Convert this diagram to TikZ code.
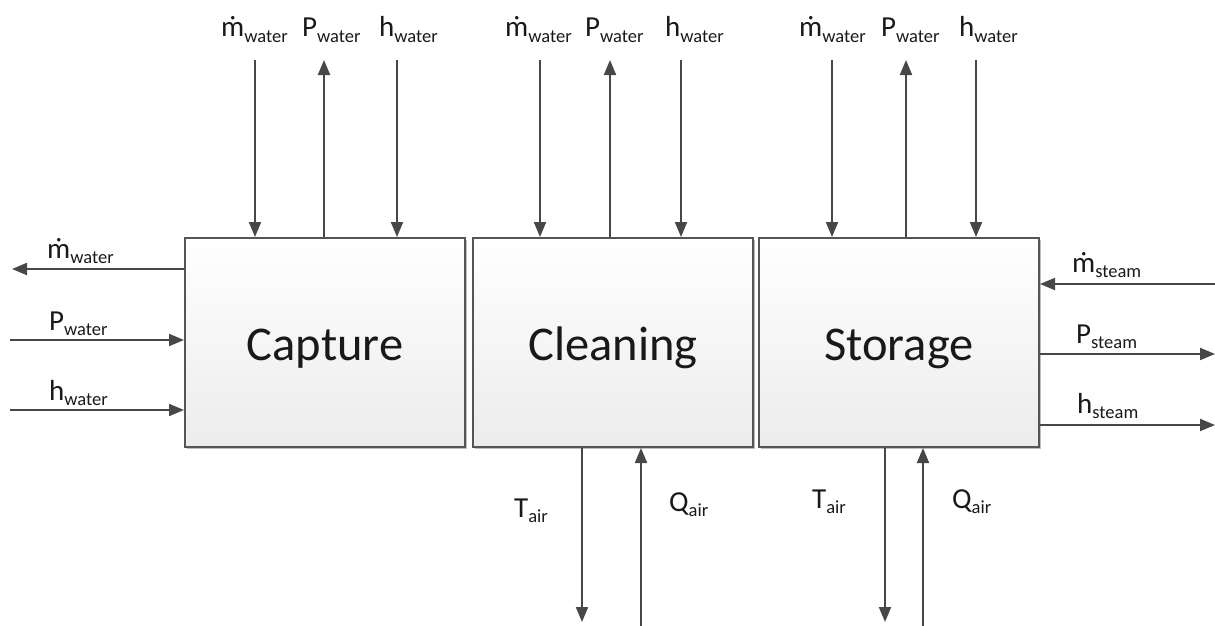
\documentclass[tikz,border=0pt]{standalone}
\usepackage{fontspec}
\setmainfont{Carlito}
\usetikzlibrary{arrows.meta,shadows}
\definecolor{arrowgray}{HTML}{474747}
\definecolor{edgegray}{HTML}{555555}
\definecolor{fillbot}{HTML}{ECECEC}
% quantity with a lowered subscript
\newcommand{\flw}[2]{#1\raisebox{-5.5pt}{\fontsize{18.5}{18.5}\selectfont #2}}
\begin{document}
\begin{tikzpicture}[x=1pt,y=-1pt,
  flow/.style={draw=arrowgray, line width=2pt, -{Triangle[length=15pt,width=12pt]}},
  lbl/.style={font=\fontsize{29}{32}\selectfont, inner sep=0pt, anchor=base west, text=black!90},
  blk/.style={draw=edgegray, line width=2pt, top color=white, bottom color=fillbot,
    minimum width=280pt, minimum height=209pt, inner sep=0pt,
    text height=35pt, text depth=0pt,
    font=\fontsize{48.5}{52}\selectfont, text=black!90,
    drop shadow={shadow xshift=2pt, shadow yshift=-2pt, opacity=0.25, fill=black}}]
\useasboundingbox (0,0) rectangle (1215,626);

% process blocks
\node[blk] (cap) at (325,342.5) {Capture};
\node[blk] (cln) at (613,342.5) {Cleaning};
\node[blk] (sto) at (899,342.5) {Storage};

% free ends of the connectors
\coordinate (c1) at (255,60);  \coordinate (c2) at (324,60);  \coordinate (c3) at (397,60);
\coordinate (k1) at (540,60);  \coordinate (k2) at (610,60);  \coordinate (k3) at (681,60);
\coordinate (s1) at (832,60);  \coordinate (s2) at (906,60);  \coordinate (s3) at (976,60);
\coordinate (lm) at (12,269);  \coordinate (lp) at (10,340);  \coordinate (lh) at (10,410);
\coordinate (rm) at (1215,284); \coordinate (rp) at (1215,354); \coordinate (rh) at (1215,425);
\coordinate (kt) at (582,622); \coordinate (kq) at (641,626);
\coordinate (st) at (885,622); \coordinate (sq) at (923,626);

% capture: water side
\draw[flow] (c1) -- (c1 |- cap.north);
\draw[flow] (c2 |- cap.north) -- (c2);
\draw[flow] (c3) -- (c3 |- cap.north);
\draw[flow] (cap.west |- lm) -- (lm);
\draw[flow] (lp) -- (lp -| cap.west);
\draw[flow] (lh) -- (lh -| cap.west);

% cleaning
\draw[flow] (k1) -- (k1 |- cln.north);
\draw[flow] (k2 |- cln.north) -- (k2);
\draw[flow] (k3) -- (k3 |- cln.north);
\draw[flow] (kt |- cln.south) -- (kt);
\draw[flow] (kq) -- (kq |- cln.south);

% storage
\draw[flow] (s1) -- (s1 |- sto.north);
\draw[flow] (s2 |- sto.north) -- (s2);
\draw[flow] (s3) -- (s3 |- sto.north);
\draw[flow] (st |- sto.south) -- (st);
\draw[flow] (sq) -- (sq |- sto.south);
\draw[flow] (rm) -- (rm -| sto.east);
\draw[flow] (sto.east |- rp) -- (rp);
\draw[flow] (sto.east |- rh) -- (rh);

% labels
\node[lbl] (lc1) at (221,37) {\flw{ṁ}{water}};
\node[lbl] (lc2) at (302,37) {\flw{P}{water}};
\node[lbl] (lc3) at (379,37) {\flw{h}{water}};
\node[lbl] (lk1) at (505,37) {\flw{ṁ}{water}};
\node[lbl] (lk2) at (585,37) {\flw{P}{water}};
\node[lbl] (lk3) at (665,37) {\flw{h}{water}};
\node[lbl] (ls1) at (799,37) {\flw{ṁ}{water}};
\node[lbl] (ls2) at (881,37) {\flw{P}{water}};
\node[lbl] (ls3) at (959,37) {\flw{h}{water}};
\node[lbl] (llm) at (47,258) {\flw{ṁ}{water}};
\node[lbl] (llp) at (49,330) {\flw{P}{water}};
\node[lbl] (llh) at (49,400) {\flw{h}{water}};
\node[lbl] (lrm) at (1072,272) {\flw{ṁ}{steam}};
\node[lbl] (lrp) at (1076,343) {\flw{P}{steam}};
\node[lbl] (lrh) at (1077,413) {\flw{h}{steam}};
\node[lbl] (lkt) at (514,517) {\flw{T}{air}};
\node[lbl] (lkq) at (669,511) {\flw{Q}{air}};
\node[lbl] (lst) at (812,508) {\flw{T}{air}};
\node[lbl] (lsq) at (952,508) {\flw{Q}{air}};
\end{tikzpicture}
\end{document}
